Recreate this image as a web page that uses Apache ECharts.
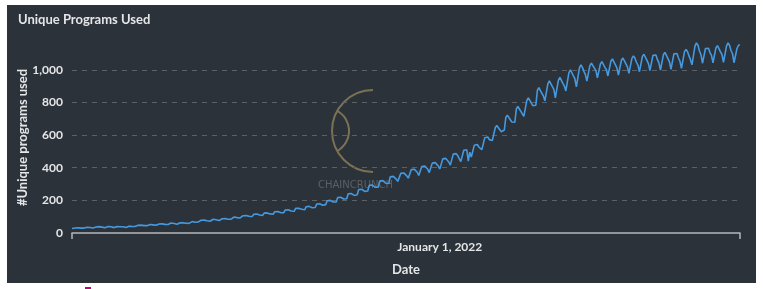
<!DOCTYPE html>
<html>
<head>
<meta charset="utf-8">
<script src="https://cdn.jsdelivr.net/npm/echarts@6/dist/echarts.min.js"></script>
<style>
  html, body { margin: 0; padding: 0; background: #ffffff; }
  #chart { position: absolute; left: 7px; top: 5px; width: 749px; height: 278px; }
  #mark { position: absolute; left: 85px; top: 287px; width: 6px; height: 2px; background: #c4007c; }
</style>
</head>
<body>
<div id="chart"></div>
<div id="mark"></div>
<script>
// 每日數值，從 2021-05-01（週六）開始，一行一週
const startDate = '2021-05-01';
const programs = [
  28, 27, 31, 33, 32, 31, 30,
  29, 30, 34, 35, 36, 34, 33,
  31, 32, 37, 38, 39, 37, 36,
  33, 32, 38, 40, 39, 38, 37,
  33, 34, 39, 40, 38, 39, 38,
  35, 34, 41, 42, 41, 40, 40,
  40, 41, 47, 49, 48, 46, 45,
  44, 45, 51, 52, 53, 50, 49,
  47, 48, 55, 57, 56, 55, 53,
  51, 52, 59, 61, 60, 58, 57,
  54, 55, 63, 64, 62, 61, 60,
  58, 59, 68, 70, 69, 66, 65,
  67, 69, 78, 80, 79, 77, 75,
  71, 72, 82, 84, 83, 81, 79,
  76, 77, 87, 90, 88, 86, 84,
  83, 85, 96, 98, 97, 94, 92,
  92, 94, 106, 109, 107, 104, 102,
  99, 101, 114, 118, 116, 112, 110,
  105, 108, 122, 125, 123, 119, 117,
  112, 115, 130, 134, 131, 128, 125,
  121, 124, 140, 144, 142, 138, 135,
  130, 133, 151, 155, 152, 148, 145,
  139, 142, 161, 166, 163, 158, 155,
  152, 156, 177, 182, 179, 174, 170,
  170, 174, 198, 203, 200, 194, 190,
  186, 190, 217, 223, 219, 213, 208,
  206, 210, 240, 246, 242, 235, 230,
  229, 234, 266, 272, 268, 261, 255,
  252, 257, 292, 299, 294, 286, 280,
  275, 280, 318, 326, 321, 312, 305,
  298, 303, 344, 352, 347, 338, 330,
  316, 322, 365, 373, 368, 358, 350,
  336, 342, 388, 396, 391, 380, 372,
  352, 358, 407, 416, 410, 399, 390,
  370, 376, 428, 437, 431, 419, 410,
  392, 399, 454, 464, 457, 445, 435,
  416, 424, 483, 493, 486, 473, 462,
  437, 445, 507, 517, 510, 440, 495,
  465, 473, 538, 549, 542, 527, 515,
  510, 518, 584, 596, 588, 572, 560,
  566, 575, 646, 659, 650, 633, 620,
  622, 631, 708, 722, 712, 694, 680,
  668, 678, 760, 775, 765, 745, 730,
  715, 725, 812, 828, 817, 796, 780,
  772, 783, 873, 890, 878, 856, 840,
  810, 821, 914, 932, 920, 897, 880,
  828, 840, 935, 953, 941, 917, 900,
  870, 882, 981, 1000, 988, 963, 945,
  895, 905, 1010, 1030, 1015, 990, 970,
  930, 942, 1025, 1040, 1030, 1010, 995,
  950, 958, 1035, 1050, 1040, 1015, 1000,
  962, 970, 1052, 1066, 1055, 1030, 1012,
  968, 975, 1058, 1072, 1060, 1036, 1018,
  978, 985, 1070, 1085, 1072, 1046, 1028,
  988, 995, 1082, 1095, 1083, 1057, 1038,
  995, 1002, 1088, 1100, 1090, 1062, 1042,
  998, 1006, 1093, 1106, 1095, 1068, 1048,
  1002, 1010, 1098, 1110, 1100, 1072, 1052,
  1008, 1018, 1110, 1125, 1112, 1085, 1062,
  1030, 1040, 1145, 1165, 1150, 1115, 1092,
  1040, 1048, 1130, 1142, 1132, 1105, 1088,
  1043, 1052, 1135, 1148, 1138, 1110, 1092,
  1045, 1055, 1145, 1165, 1150, 1118, 1098,
  1043, 1050, 1130, 1150, 1153
];
// 唯一顯示的 x 軸標籤
const tickDates = ['2022-01-01'];
const tickLabels = ['January 1, 2022'];
const yTicks = [0, 200, 400, 600, 800, 1000];

// 日期類別
const dates = [];
const d0 = new Date(startDate + 'T00:00:00Z');
for (let i = 0; i < programs.length; i++) {
  const d = new Date(d0.getTime() + i * 86400000);
  dates.push(d.toISOString().slice(0, 10));
}
const last = dates.length - 1;

const chart = echarts.init(document.getElementById('chart'));
const font = 'Lato, "Open Sans", sans-serif';

chart.setOption({
  backgroundColor: '#2c3239',
  textStyle: { fontFamily: font },
  title: {
    text: 'Unique Programs Used',
    left: 11,
    top: 8,
    padding: 0,
    textStyle: { color: '#e4e6e8', fontSize: 13, fontWeight: 'bold', fontFamily: font }
  },
  grid: { left: 65, right: 16, top: 37, bottom: 50, outerBoundsMode: 'none', containLabel: false },
  xAxis: {
    type: 'category',
    data: dates,
    boundaryGap: false,
    name: 'Date',
    nameLocation: 'middle',
    nameGap: 30,
    nameTextStyle: { color: '#e4e6e8', fontSize: 13, fontWeight: 'bold' },
    axisLine: { lineStyle: { color: '#b4b7bb', width: 1.5 } },
    axisTick: {
      show: true,
      length: 6,
      interval: (idx) => idx === 0 || idx === last,
      lineStyle: { color: '#b4b7bb', width: 1.5 }
    },
    axisLabel: {
      interval: (idx, val) => tickDates.includes(val),
      formatter: (val) => tickLabels[tickDates.indexOf(val)] || '',
      color: '#e4e6e8',
      fontSize: 12,
      fontWeight: 'bold',
      margin: 8
    },
    splitLine: { show: false }
  },
  yAxis: {
    type: 'value',
    min: 0,
    max: 1170,
    interval: 200,
    name: '#Unique programs used',
    nameLocation: 'middle',
    nameGap: 43,
    nameMoveOverlap: false,
    nameTextStyle: { color: '#e4e6e8', fontSize: 13, fontWeight: 'bold' },
    axisLine: { show: false },
    axisTick: { show: false },
    axisLabel: {
      color: '#e4e6e8',
      fontSize: 12,
      fontWeight: 'bold',
      margin: 9,
      showMaxLabel: false,
      formatter: (v) => (yTicks.includes(v) ? v.toLocaleString('en-US') : '')
    },
    splitLine: {
      showMinLine: false,
      showMaxLine: false,
      lineStyle: { color: '#5c6168', type: [5, 5], width: 1 }
    }
  },
  // 浮水印
  graphic: [
    {
      type: 'arc', z: 0, silent: true,
      shape: { cx: 366, cy: 126, r: 41, startAngle: Math.PI / 2, endAngle: Math.PI * 1.5, clockwise: true },
      style: { stroke: '#7b7254', lineWidth: 2, fill: null }
    },
    {
      type: 'arc', z: 0, silent: true,
      shape: { cx: 319, cy: 126, r: 23, startAngle: -1.08, endAngle: 1.08, clockwise: true },
      style: { stroke: '#7b7254', lineWidth: 2, fill: null }
    },
    {
      type: 'text', z: 0, silent: true,
      x: 311, y: 180,
      style: { text: 'CHAINCRUNCH', fill: '#5b6067', font: '10px "DejaVu Sans"', verticalAlign: 'middle' }
    }
  ],
  series: [
    {
      type: 'line',
      data: programs,
      showSymbol: false,
      symbol: 'none',
      lineStyle: { color: '#4499e0', width: 1.6 },
      itemStyle: { color: '#4499e0' },
      animation: false
    }
  ]
});
</script>
</body>
</html>
